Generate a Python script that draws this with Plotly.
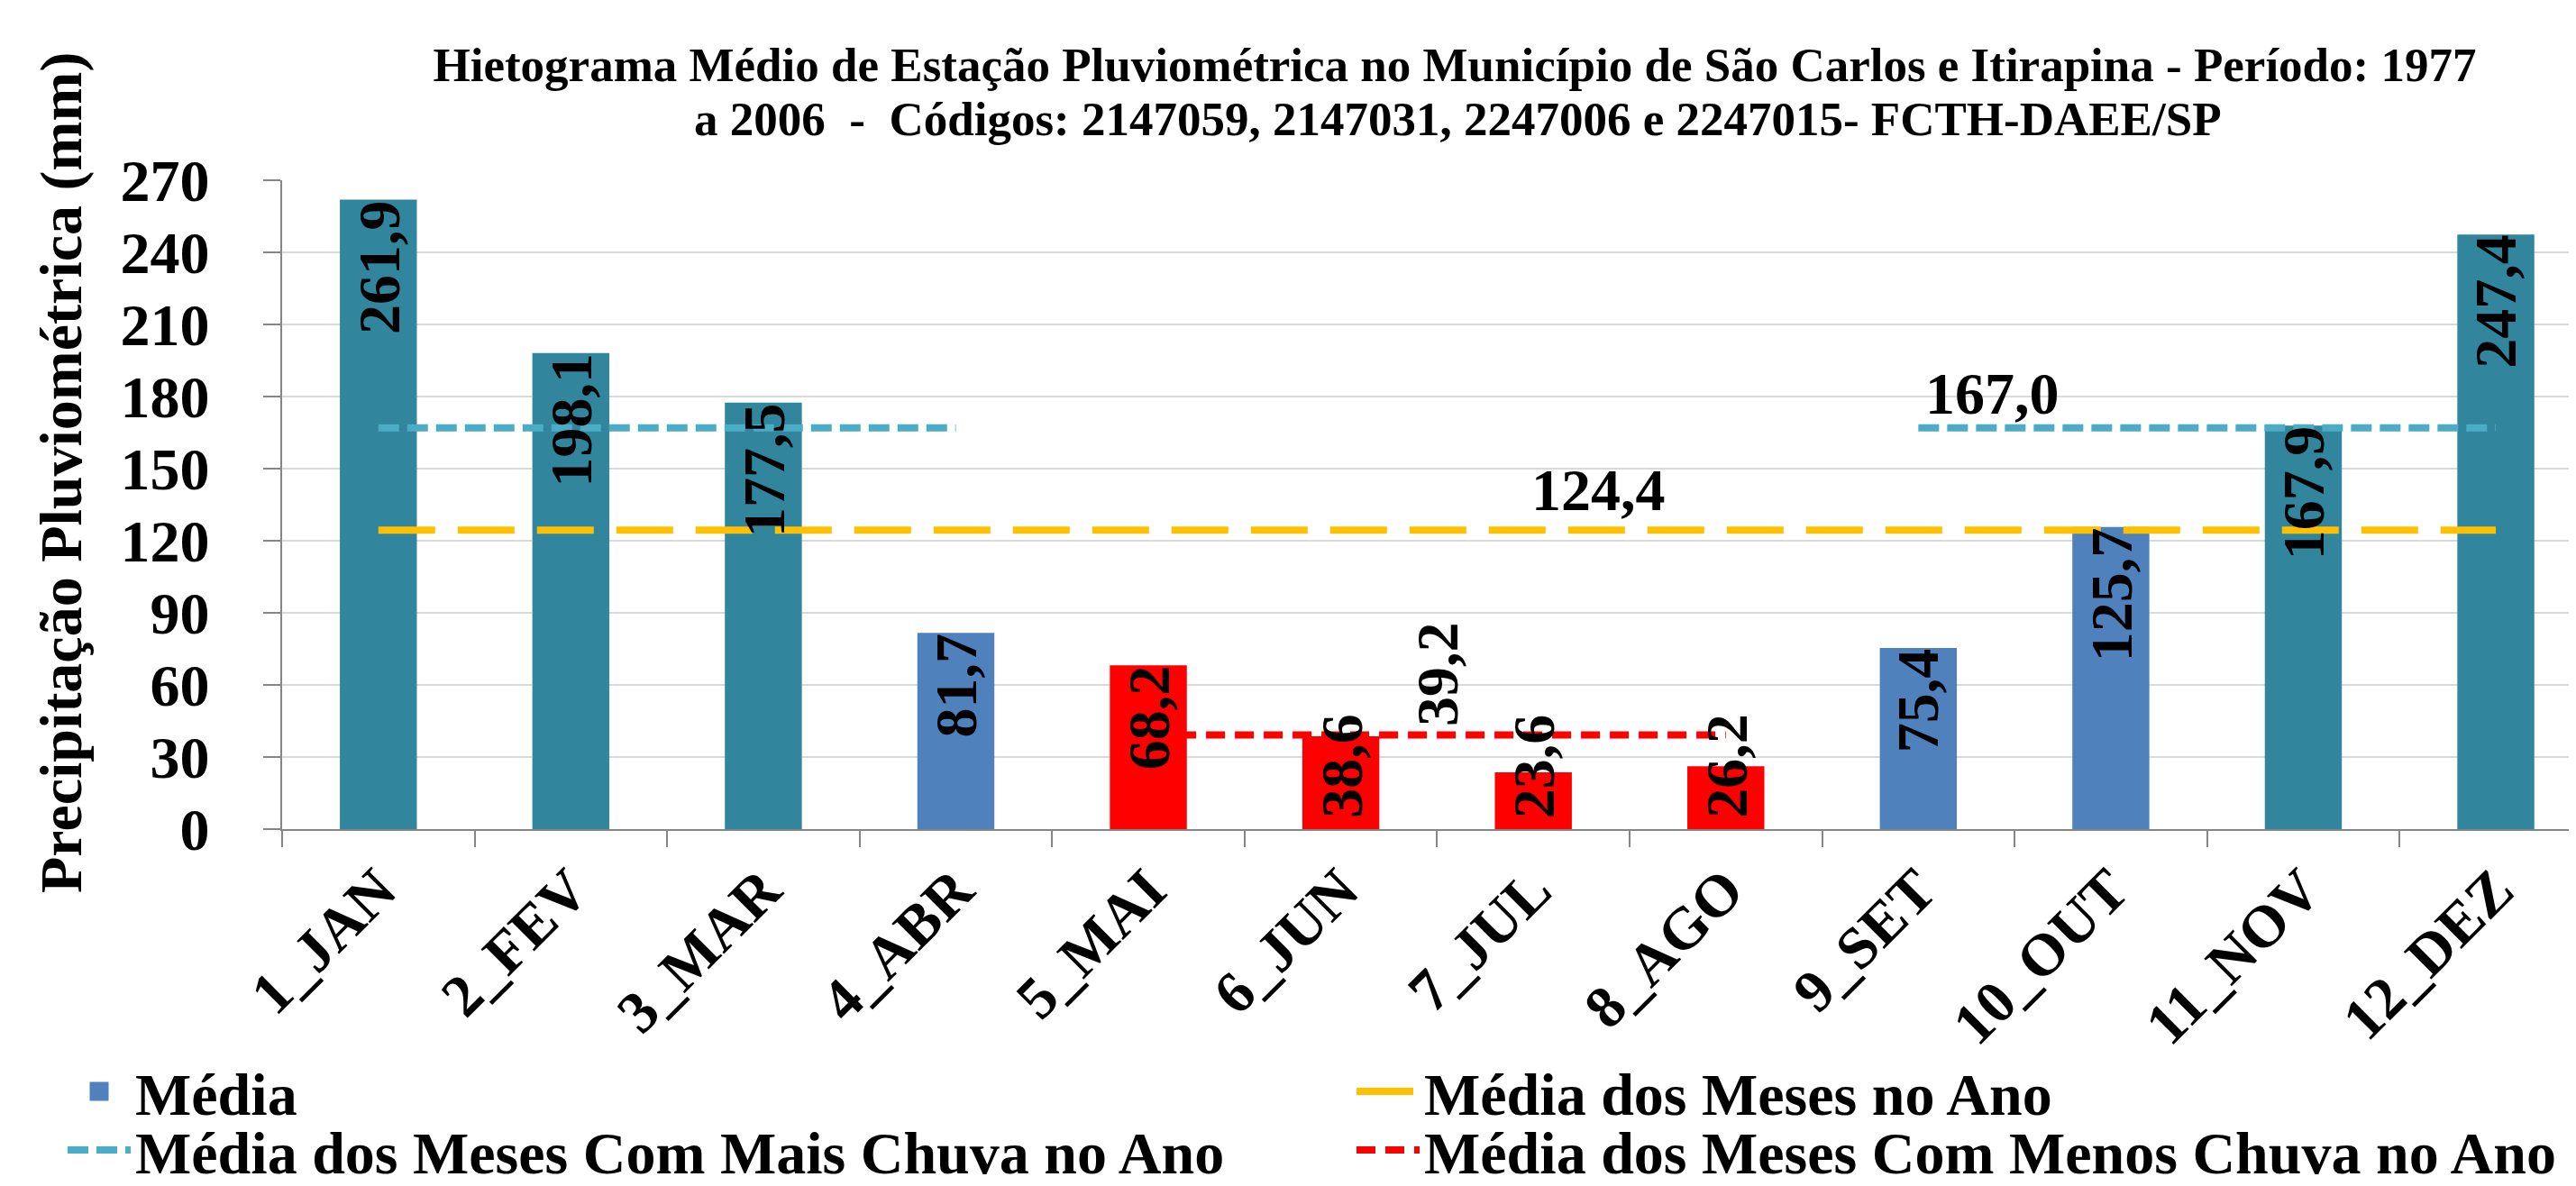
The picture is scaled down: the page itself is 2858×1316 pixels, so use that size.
import plotly.graph_objects as go

# ---------------- data ----------------
months = ['1_JAN', '2_FEV', '3_MAR', '4_ABR', '5_MAI', '6_JUN',
          '7_JUL', '8_AGO', '9_SET', '10_OUT', '11_NOV', '12_DEZ']
values = [261.9, 198.1, 177.5, 81.7, 68.2, 38.6, 23.6, 26.2, 75.4, 125.7, 167.9, 247.4]
groups = ['mais', 'mais', 'mais', 'media', 'menos', 'menos',
          'menos', 'menos', 'media', 'media', 'mais', 'mais']
mean_year = [124.4] * 12
mean_wet = [167.0, 167.0, 167.0, 167.0, None, None, None, None, 167.0, 167.0, 167.0, 167.0]
mean_dry = [None, None, None, None, 39.2, 39.2, 39.2, 39.2, None, None, None, None]
y_ticks = [0, 30, 60, 90, 120, 150, 180, 210, 240, 270]

title_l1 = 'Hietograma Médio de Estação Pluviométrica no Município de São Carlos e Itirapina - Período: 1977'
title_l2 = 'a 2006 \u00a0-\u00a0 Códigos: 2147059, 2147031, 2247006 e 2247015- FCTH-DAEE/SP'
y_title = 'Precipitação Pluviométrica (mm)'

# ---------------- style ----------------
W, H = 2858, 1316
ML, MR, MT, MB = 305, 0, 192, 404
FONT = 'Liberation Serif'
TEAL = '#31859C'
BLUE = '#4F81BD'
RED = '#FF0000'
CYAN = '#4BACC6'
GOLD = '#FFC000'
AXIS = '#868686'
GRID = '#D9D9D9'
FS = 66

def fmt(v):
    return f'{v:.1f}'.replace('.', ',')

plot_h = H - MT - MB
plot_w = W - ML - MR
px_per_unit = plot_h / (y_ticks[-1] - y_ticks[0])

def px_x(px):   # figure pixel -> paper x
    return (px - ML) / plot_w

def px_y(py):   # figure pixel -> paper y
    return (MT + plot_h - py) / plot_h

fig = go.Figure()

bar_colors = {'mais': TEAL, 'media': BLUE, 'menos': RED}
for key, col in bar_colors.items():
    xs = [m for m, g in zip(months, groups) if g == key]
    ys = [v for v, g in zip(values, groups) if g == key]
    fig.add_trace(go.Bar(x=xs, y=ys, marker=dict(color=col, line=dict(width=0)),
                         width=0.4, showlegend=False, hoverinfo='skip'))

# legend proxy for the bar series
fig.add_trace(go.Scatter(x=[None], y=[None], mode='markers', name='Média',
                         marker=dict(symbol='square', size=16, color=BLUE,
                                     line=dict(color=BLUE, width=5)),
                         legend='legend'))
fig.add_trace(go.Scatter(x=months, y=mean_year, mode='lines', name='Média dos Meses no Ano',
                         line=dict(color=GOLD, width=8, dash='63px,25px'), legend='legend2'))
fig.add_trace(go.Scatter(x=months, y=mean_wet, mode='lines', name='Média dos Meses Com Mais Chuva no Ano',
                         line=dict(color=CYAN, width=8, dash='23px,9px'), connectgaps=False,
                         legend='legend3'))
fig.add_trace(go.Scatter(x=months, y=mean_dry, mode='lines', name='Média dos Meses Com Menos Chuva no Ano',
                         line=dict(color=RED, width=8, dash='21px,11px'), connectgaps=False,
                         legend='legend4'))

ann = []
lab_font = dict(family=FONT, size=FS, color='black', weight='bold')
for m, v in zip(months, values):
    if v * px_per_unit >= 130:
        ann.append(dict(x=m, y=v, xref='x', yref='y', text=fmt(v), textangle=-90,
                        showarrow=False, yanchor='top', xanchor='center', yshift=2, font=lab_font))
    else:
        ann.append(dict(x=m, y=0, xref='x', yref='y', text=fmt(v), textangle=-90,
                        showarrow=False, yanchor='bottom', xanchor='center', yshift=10, font=lab_font))

# labels for the mean lines
ann.append(dict(x=5.5, y=mean_dry[4], xref='x', yref='y', text=fmt(mean_dry[4]), textangle=-90,
                showarrow=False, yanchor='bottom', xanchor='center', yshift=8, font=lab_font))
ann.append(dict(x=6, y=mean_year[0], xref='x', yref='y', text=fmt(mean_year[0]),
                showarrow=False, yanchor='bottom', xanchor='left', xshift=-4, yshift=6, font=lab_font))
ann.append(dict(x=8, y=mean_wet[8], xref='x', yref='y', text=fmt(mean_wet[8]),
                showarrow=False, yanchor='bottom', xanchor='left', xshift=6, yshift=0, font=lab_font))

# y axis title
ann.append(dict(x=px_x(60), y=px_y(517), xref='paper', yref='paper',
                text=y_title, textangle=-90, showarrow=False, xanchor='center', yanchor='middle',
                font=dict(family=FONT, size=FS, color='black', weight='bold')))
# second title line
ann.append(dict(x=px_x(1610), y=px_y(124), xref='paper', yref='paper',
                text=title_l2, showarrow=False, xanchor='center', yanchor='middle',
                font=dict(family=FONT, size=53, color='black', weight='bold')))

leg_common = dict(orientation='h', xanchor='left', yanchor='middle', itemwidth=70,
                  bgcolor='rgba(0,0,0,0)',
                  font=dict(family=FONT, size=FS, color='black', weight='bold'))
col1_x, col2_x = 62, 1492
row1_y, row2_y = 1203, 1268

fig.update_layout(
    width=W, height=H,
    margin=dict(l=ML, r=MR, t=MT, b=MB, autoexpand=False),
    paper_bgcolor='white', plot_bgcolor='white',
    barmode='overlay',
    font=dict(family=FONT, size=FS, color='black', weight='bold'),
    title=dict(text=title_l1, x=1606 / W, xref='container', xanchor='center',
               y=1 - 63 / H, yref='container', yanchor='middle',
               font=dict(family=FONT, size=53, color='black', weight='bold')),
    xaxis=dict(type='category', categoryorder='array', categoryarray=months,
               range=[-0.5, 11.454], tickson='boundaries', ticks='outside', ticklen=18,
               tickwidth=2, tickcolor=AXIS, showline=True, linecolor=AXIS, linewidth=2,
               showgrid=False, tickangle=-45, fixedrange=True,
               tickfont=dict(family=FONT, size=FS, color='black', weight='bold')),
    yaxis=dict(range=[y_ticks[0], y_ticks[-1]], tickvals=y_ticks,
               ticktext=[f'{t}\u00a0\u00a0\u2009' for t in y_ticks],
               ticks='outside', ticklen=19,
               tickwidth=2, tickcolor=AXIS, showline=True, linecolor=AXIS, linewidth=2,
               showgrid=True, gridcolor=GRID, gridwidth=2, zeroline=False,
               tickfont=dict(family=FONT, size=FS, color='black', weight='bold')),
    legend=dict(x=px_x(col1_x), y=px_y(row1_y), **leg_common),
    legend2=dict(x=px_x(col2_x), y=px_y(row1_y), **leg_common),
    legend3=dict(x=px_x(col1_x), y=px_y(row2_y), **leg_common),
    legend4=dict(x=px_x(col2_x), y=px_y(row2_y), **leg_common),
    annotations=ann,
    showlegend=True,
)

fig.write_html('out.html')
